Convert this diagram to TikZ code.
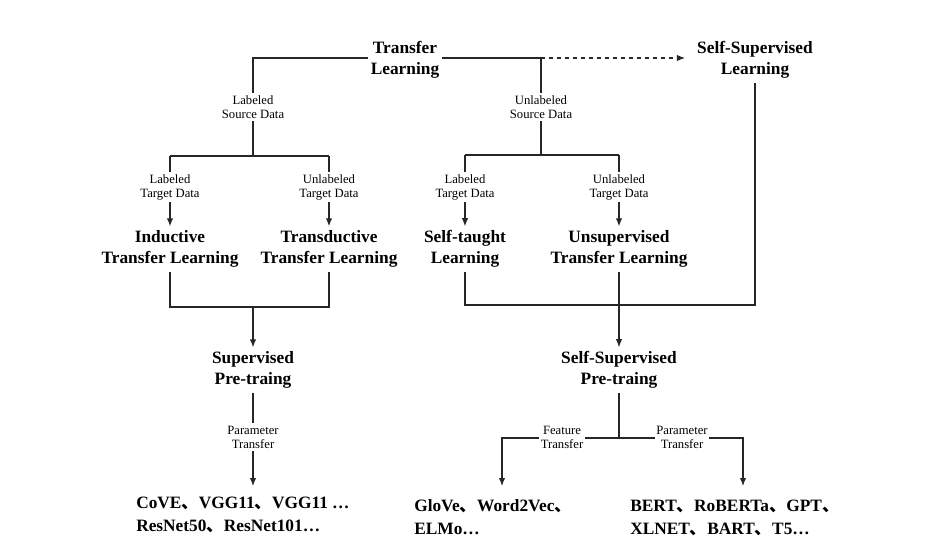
\documentclass[tikz,border=0pt]{standalone}
\usepackage{fontspec}
\setmainfont{Liberation Serif}
\newfontfamily\cjk{Noto Sans CJK SC}
\newcommand\dun{{\cjk 、}}
\usetikzlibrary{arrows.meta}
\tikzset{
  big/.style={font=\bfseries\fontsize{13}{15.75}\selectfont, align=center, inner xsep=2pt, inner ysep=3pt},
  outtext/.style={font=\bfseries\fontsize{13}{17.25}\selectfont, align=left, inner sep=0pt, anchor=west},
  lab/.style={font=\fontsize{9.5}{10.5}\selectfont, align=center, fill=white, inner xsep=1pt, inner ysep=2pt},
  ln/.style={line width=0.8pt, draw=black!85},
  tip/.style={-{Latex[length=6pt,width=4.8pt]}},
  arr/.style={ln, tip},
}
\begin{document}
\begin{tikzpicture}[x=0.75pt,y=-0.75pt]
\useasboundingbox (0,0) rectangle (944,553);
% main nodes
\node[big] (tl)  at (405,60)  {Transfer\\Learning};
\node[big] (ssl) at (755,60)  {Self-Supervised\\Learning};
\node[big] (itl) at (170,249) {Inductive\\Transfer Learning};
\node[big] (ttl) at (329,249) {Transductive\\Transfer Learning};
\node[big] (stl) at (465,249) {Self-taught\\Learning};
\node[big] (utl) at (619,249) {Unsupervised\\Transfer Learning};
\node[big] (sp)  at (253,370) {Supervised\\Pre-traing};
\node[big] (ssp) at (619,370) {Self-Supervised\\Pre-traing};
\node[outtext] (b1) at (136,515) {CoVE\dun VGG11\dun VGG11 \dots\\ResNet50\dun ResNet101\dots};
\node[outtext] (b2) at (414,517) {GloVe\dun Word2Vec\dun\\ELMo\dots};
\node[outtext] (b3) at (630,518) {BERT\dun RoBERTa\dun GPT\dun\\XLNET\dun BART\dun T5\dots};
% junction coordinates
\coordinate (tlL) at (253,58);
\coordinate (tlR) at (541,58);
\coordinate (jL) at (253,156);
\coordinate (jR) at (541,155);
\coordinate (jM1) at (253,307);
\coordinate (jM2) at (465,305);
\coordinate (jM3) at (755,305);
\coordinate (jB) at (619,438);
\coordinate (jBL) at (502,438);
\coordinate (jBR) at (743,438);
\coordinate (e1) at (253,486);
\coordinate (e2) at (502,486);
\coordinate (e3) at (743,486);
% top connectors
\draw[ln] (tl.west |- tlL) -- (tlL) -- (jL);
\draw[ln] (tl.east |- tlR) -- (tlR) -- (jR);
\draw[ln, dashed, tip] (tlR) -- ([xshift=-7pt]ssl.west |- tlR);
\draw[ln] (itl.north |- jL) -- (ttl.north |- jL);
\draw[arr] (itl.north |- jL) -- (itl.north);
\draw[arr] (ttl.north |- jL) -- (ttl.north);
\draw[ln] (stl.north |- jR) -- (utl.north |- jR);
\draw[arr] (stl.north |- jR) -- (stl.north);
\draw[arr] (utl.north |- jR) -- (utl.north);
% middle connectors
\draw[ln] (itl.south) -- (itl.south |- jM1) -- (ttl.south |- jM1) -- (ttl.south);
\draw[arr] (jM1) -- (sp.north);
\draw[ln] (stl.south) -- (jM2) -- (jM3) -- (ssl.south);
\draw[arr] (utl.south) -- (ssp.north);
% bottom connectors
\draw[arr] (sp.south) -- (e1);
\draw[ln] (ssp.south) -- (jB);
\draw[arr] (jB) -- (jBL) -- (e2);
\draw[arr] (jB) -- (jBR) -- (e3);
% labels on connectors
\node[lab] (l1) at (253,107) {Labeled\\Source Data};
\node[lab] (l2) at (541,107) {Unlabeled\\Source Data};
\node[lab] (l3) at (170,187) {Labeled\\Target Data};
\node[lab] (l4) at (329,187) {Unlabeled\\Target Data};
\node[lab] (l5) at (465,187) {Labeled\\Target Data};
\node[lab] (l6) at (619,187) {Unlabeled\\Target Data};
\node[lab] (l7) at (253,437) {Parameter\\Transfer};
\node[lab] (l8) at (562,437) {Feature\\Transfer};
\node[lab] (l9) at (682,437) {Parameter\\Transfer};
\end{tikzpicture}
\end{document}
